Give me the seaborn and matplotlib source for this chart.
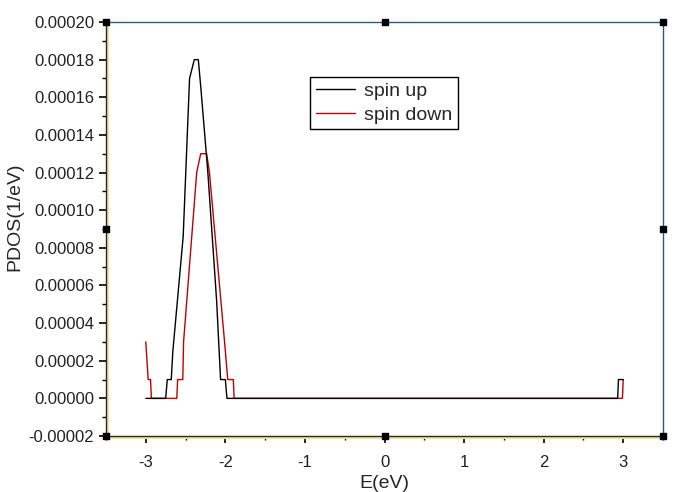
import pandas as pd
import matplotlib
matplotlib.use('Agg')
import matplotlib.pyplot as plt
import matplotlib.ticker as mticker
import seaborn as sns

# spin up (black) polyline vertices
up_e = [-3.0, -2.75, -2.73, -2.68, -2.66, -2.53, -2.45, -2.39, -2.34, -2.31, -2.22,
        -2.11, -2.06, -2.00, -1.98, 2.93, 2.94, 3.0]
up_pdos = [0, 0, 1e-5, 1e-5, 2.5e-5, 8.6e-5, 1.7e-4, 1.8e-4, 1.8e-4, 1.66e-4, 1.2e-4,
           5.2e-5, 1e-5, 1e-5, 0, 0, 1e-5, 1e-5]

# spin down (red)
down_e = [-3.0, -2.97, -2.94, -2.93, -2.61, -2.60, -2.535, -2.525, -2.36, -2.31, -2.235,
          -2.20, -2.01, -1.97, -1.90, -1.89, 2.99, 3.0]
down_pdos = [3e-5, 1e-5, 1e-5, 0, 0, 1e-5, 1e-5, 3e-5, 1.2e-4, 1.3e-4, 1.3e-4,
             1.2e-4, 3e-5, 1e-5, 1e-5, 0, 0, 1e-5]

up = pd.DataFrame({'E': up_e, 'PDOS': up_pdos, 'spin': 'spin up'})
down = pd.DataFrame({'E': down_e, 'PDOS': down_pdos, 'spin': 'spin down'})
df = pd.concat([down, up], ignore_index=True)

sns.set_style('ticks')
plt.rcParams['font.family'] = ['Liberation Sans', 'DejaVu Sans']
plt.rcParams['axes.unicode_minus'] = False

fig = plt.figure(figsize=(6.91, 4.92), dpi=100)
ax = fig.add_axes([0.1534, 0.1138, 0.8061, 0.8415])

sns.lineplot(data=df, x='E', y='PDOS', hue='spin', sort=False, estimator=None,
             palette={'spin up': 'black', 'spin down': '#c00000'},
             hue_order=['spin up', 'spin down'], linewidth=1.0, ax=ax)
# keep black on top like the original
for line in ax.get_lines():
    if line.get_color() in ('black', '#000000', (0.0, 0.0, 0.0, 1.0)):
        line.set_zorder(3)

ax.set_xlim(-3.5, 3.5)
ax.set_ylim(-0.00002, 0.00020)
ax.xaxis.set_major_locator(mticker.MultipleLocator(1))
ax.xaxis.set_minor_locator(mticker.MultipleLocator(0.5))
ax.yaxis.set_major_locator(mticker.MultipleLocator(0.00002))
ax.yaxis.set_minor_locator(mticker.MultipleLocator(0.00001))
ax.yaxis.set_major_formatter(mticker.FormatStrFormatter('%.5f'))
ax.xaxis.set_major_formatter(mticker.FormatStrFormatter('%d'))
ax.tick_params(which='major', direction='out', length=5, width=1.2, labelsize=12,
               colors='black', labelcolor='#222222')
ax.tick_params(axis='x', which='major', pad=9)
ax.tick_params(which='minor', direction='out', length=3, width=1.0, colors='black')

ax.set_xlabel('E(eV)', fontsize=14, labelpad=3)
ax.set_ylabel('PDOS(1/eV)', fontsize=14)
ax.yaxis.set_label_coords(-0.148, 0.53)

for side in ['left', 'bottom']:
    ax.spines[side].set_color('#2a2a1a')
    ax.spines[side].set_linewidth(1.0)
for side in ['top', 'right']:
    ax.spines[side].set_visible(True)
    ax.spines[side].set_color('#2e5c8a')
    ax.spines[side].set_linewidth(1.0)
# pale yellow edge along the left and bottom axes
ax.plot([0.003, 0.003], [0, 1], transform=ax.transAxes, color='#f3e3a0', lw=1.5, clip_on=False)
ax.plot([0, 1], [-0.004, -0.004], transform=ax.transAxes, color='#f3e3a0', lw=1.5, clip_on=False)

# small selection handles on the frame
hx = [0, 0.5, 1, 0, 1, 0, 0.5, 1]
hy = [0, 0, 0, 0.5, 0.5, 1, 1, 1]
ax.scatter(hx, hy, transform=ax.transAxes, marker='s', s=22, color='black',
           clip_on=False, zorder=5)

leg = ax.legend(loc='upper left', bbox_to_anchor=(0.366, 0.868), borderaxespad=0,
                fontsize=14, frameon=True, fancybox=False, framealpha=1,
                edgecolor='black', handlelength=2.0, borderpad=0.3,
                labelspacing=0.3, handletextpad=0.5)
leg.get_frame().set_linewidth(1.0)

fig.savefig('out.png', dpi=100)
